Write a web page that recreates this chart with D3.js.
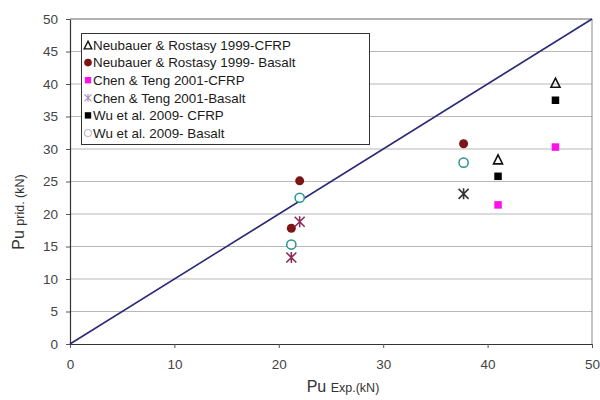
<!DOCTYPE html>
<html>
<head>
<meta charset="utf-8">
<script src="https://cdn.jsdelivr.net/npm/d3@7"></script>
<style>
  html, body { margin: 0; padding: 0; background: #fff; }
  svg { display: block; font-family: "Liberation Sans", Arial, sans-serif; }
</style>
</head>
<body>
<svg id="chart" width="600" height="400"></svg>
<script>
// Experimental vs predicted ultimate load (kN)
const axisTicksX = [0, 10, 20, 30, 40, 50];
const axisTicksY = [0, 5, 10, 15, 20, 25, 30, 35, 40, 45, 50];

const neubauerCfrpExp = [41.0, 46.5];
const neubauerCfrpPred = [28.4, 40.2];

const neubauerBasaltExp = [21.2, 22.0, 37.7];
const neubauerBasaltPred = [17.8, 25.1, 30.8];

const chenCfrpExp = [41.0, 46.5];
const chenCfrpPred = [21.4, 30.3];

const chenBasaltExp = [21.2, 22.0, 37.7];
const chenBasaltPred = [13.3, 18.8, 23.1];

const wuCfrpExp = [41.0, 46.5];
const wuCfrpPred = [25.8, 37.5];

const wuBasaltExp = [21.2, 22.0, 37.7];
const wuBasaltPred = [15.3, 22.5, 27.9];

const seriesNames = [
  "Neubauer & Rostasy 1999-CFRP",
  "Neubauer & Rostasy 1999- Basalt",
  "Chen & Teng 2001-CFRP",
  "Chen & Teng 2001-Basalt",
  "Wu et al. 2009- CFRP",
  "Wu et al. 2009- Basalt"
];

const series = [
  { name: seriesNames[0], xs: neubauerCfrpExp, ys: neubauerCfrpPred, shape: "triangle", color: "#111" },
  { name: seriesNames[1], xs: neubauerBasaltExp, ys: neubauerBasaltPred, shape: "dot", color: "#7d1418" },
  { name: seriesNames[2], xs: chenCfrpExp, ys: chenCfrpPred, shape: "square", color: "#ff10e8" },
  { name: seriesNames[3], xs: chenBasaltExp, ys: chenBasaltPred, shape: "star", color: "#8a2a5c" },
  { name: seriesNames[4], xs: wuCfrpExp, ys: wuCfrpPred, shape: "square", color: "#000" },
  { name: seriesNames[5], xs: wuBasaltExp, ys: wuBasaltPred, shape: "ring", color: "#2a9393" }
];

const svg = d3.select("#chart");
const plot = { left: 70, right: 592, top: 19, bottom: 344 };

const x = d3.scaleLinear().domain([0, 50]).range([plot.left, plot.right]);
const y = d3.scaleLinear().domain([0, 50]).range([plot.bottom, plot.top]);

// horizontal gridlines
svg.append("g")
  .selectAll("line")
  .data(axisTicksY.filter(d => d > 0))
  .join("line")
  .attr("x1", plot.left).attr("x2", plot.right)
  .attr("y1", d => y(d)).attr("y2", d => y(d))
  .attr("stroke", "#b8b8b8").attr("stroke-width", 1);

// plot frame (top and right)
svg.append("path")
  .attr("d", `M${plot.left},${plot.top}H${plot.right}V${plot.bottom}`)
  .attr("fill", "none").attr("stroke", "#8a8a8a").attr("stroke-width", 1);

// axes
const xAxis = svg.append("g")
  .attr("transform", `translate(0,${plot.bottom})`)
  .call(d3.axisBottom(x).tickValues(axisTicksX).tickSize(4).tickPadding(11).tickSizeOuter(0));
const yAxis = svg.append("g")
  .attr("transform", `translate(${plot.left},0)`)
  .call(d3.axisLeft(y).tickValues(axisTicksY).tickSize(4).tickPadding(8).tickSizeOuter(0));

[xAxis, yAxis].forEach(g => {
  g.select(".domain").attr("stroke", "#333").attr("stroke-width", 1.2);
  g.selectAll(".tick line").attr("stroke", "#555");
  g.selectAll(".tick text")
    .attr("fill", "#444")
    .style("font-size", "13.5px")
    .style("font-family", "'Liberation Sans', Arial, sans-serif");
});

// 1:1 reference line
svg.append("line")
  .attr("x1", x(0)).attr("y1", y(0))
  .attr("x2", x(50)).attr("y2", y(50))
  .attr("stroke", "#2b2b78").attr("stroke-width", 1.6);

// marker drawing
function drawMarker(g, shape, color, cx, cy, scale) {
  const s = scale || 1;
  if (shape === "triangle") {
    const h = 9 * s, w = 9 * s;
    g.append("path")
      .attr("d", `M${cx},${cy - h / 2}L${cx + w / 2},${cy + h / 2}L${cx - w / 2},${cy + h / 2}Z`)
      .attr("fill", "none").attr("stroke", color).attr("stroke-width", 1.6 * s);
  } else if (shape === "dot") {
    g.append("circle").attr("cx", cx).attr("cy", cy).attr("r", 4.5 * s).attr("fill", color);
  } else if (shape === "ring") {
    g.append("circle").attr("cx", cx).attr("cy", cy).attr("r", 4.6 * s)
      .attr("fill", "#fff").attr("stroke", color).attr("stroke-width", 1.5 * s);
  } else if (shape === "square") {
    const a = 7.5 * s;
    g.append("rect").attr("x", cx - a / 2).attr("y", cy - a / 2)
      .attr("width", a).attr("height", a).attr("fill", color);
  } else if (shape === "star") {
    const r = 5 * s;
    const p = [];
    p.push(`M${cx - r},${cy - r}L${cx + r},${cy + r}`);
    p.push(`M${cx - r},${cy + r}L${cx + r},${cy - r}`);
    p.push(`M${cx},${cy - r * 1.1}V${cy + r * 1.1}`);
    g.append("path").attr("d", p.join(""))
      .attr("fill", "none").attr("stroke", color).attr("stroke-width", 1.6 * s);
  }
}

const marks = svg.append("g");
series.forEach(sr => {
  sr.xs.forEach((xv, i) => {
    // the Chen & Teng basalt point at the largest load is printed in a darker tone
    const col = (sr.shape === "star" && i === 2) ? "#333" : sr.color;
    drawMarker(marks, sr.shape, col, x(xv), y(sr.ys[i]));
  });
});

// legend
const legend = svg.append("g");
legend.append("rect")
  .attr("x", 81.5).attr("y", 33.5).attr("width", 288).attr("height", 111)
  .attr("fill", "#fff").attr("stroke", "#333").attr("stroke-width", 1);

const legendItems = legend.selectAll("g.item")
  .data(series)
  .join("g").attr("class", "item")
  .attr("transform", (d, i) => `translate(0,${45 + i * 17.6})`);

legendItems.each(function (d, i) {
  const g = d3.select(this);
  const col = d.shape === "star" ? "#a58fc0" : d.color;
  const sc = d.shape === "star" ? 0.7 : d.shape === "ring" ? 0.75 : 0.85;
  drawMarker(g, d.shape, d.shape === "ring" ? "#bbb" : col, 88, 0, sc);
  g.append("text")
    .attr("x", 93).attr("y", 0).attr("dy", "0.36em")
    .attr("fill", "#1a1a1a")
    .style("font-size", "13.4px")
    .text(d.name);
});

// axis titles
const xTitle = svg.append("text")
  .attr("x", 343).attr("y", 392)
  .attr("text-anchor", "middle").attr("fill", "#333");
xTitle.append("tspan").style("font-size", "16px").text("Pu ");
xTitle.append("tspan").style("font-size", "12.5px").text("Exp.(kN)");

const yTitle = svg.append("text")
  .attr("transform", "translate(24,212) rotate(-90)")
  .attr("text-anchor", "middle").attr("fill", "#333");
yTitle.append("tspan").style("font-size", "16px").text("Pu ");
yTitle.append("tspan").style("font-size", "12.5px").text("prid. (kN)");
</script>
</body>
</html>
